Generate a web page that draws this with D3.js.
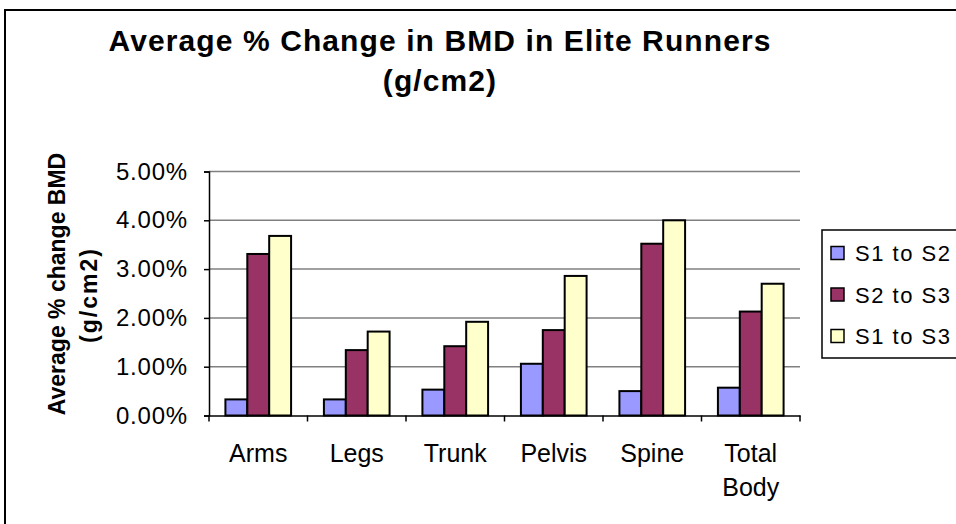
<!DOCTYPE html>
<html><head><meta charset="utf-8">
<script src="https://cdn.jsdelivr.net/npm/d3@7/dist/d3.min.js"></script>
<style>
html,body{margin:0;padding:0;background:#fff;}
svg{display:block;font-family:Arial,"Liberation Sans",sans-serif;}
</style></head>
<body><svg id="c" width="956" height="524"></svg>
<script>
const categories = ["Arms","Legs","Trunk","Pelvis","Spine","Total Body"];
const seriesNames = ["S1 to S2","S2 to S3","S1 to S3"];
const s1ToS2 = [0.33,0.33,0.53,1.06,0.50,0.57];
const s2ToS3 = [3.31,1.34,1.42,1.75,3.52,2.13];
const s1ToS3 = [3.68,1.72,1.92,2.86,4.00,2.70];
const yTicks = [0,1,2,3,4,5];
const seriesColors = ["#9999FF","#993366","#FFFFCC"];
const titleLines = ["Average % Change in BMD in Elite Runners","(g/cm2)"];
const yTitleLines = ["Average % change BMD","(g/cm2)"];

const seriesValues = [s1ToS2, s2ToS3, s1ToS3];
const svg = d3.select("#c");

// outer chart frame
svg.append("rect").attr("x",5).attr("y",10).attr("width",1000).attr("height",600)
  .attr("fill","#fff").attr("stroke","#000").attr("stroke-width",2);

const pLeft=209, pRight=800, pTop=171.5, pBottom=415.5;
const x0 = d3.scaleBand().domain(categories).range([pLeft,pRight]).padding(0);
const x1 = d3.scaleBand().domain(seriesNames).range([0,x0.bandwidth()]).paddingInner(0).paddingOuter(0.75);
const y = d3.scaleLinear().domain([0,5]).range([pBottom,pTop]);
const color = d3.scaleOrdinal().domain(seriesNames).range(seriesColors);

// gridlines
svg.append("g").selectAll("line").data(yTicks.filter(d=>d>0)).join("line")
  .attr("x1",pLeft).attr("x2",pRight).attr("y1",d=>y(d)).attr("y2",d=>y(d))
  .attr("stroke","#808080").attr("stroke-width",1.5);

// bars
const groups = svg.append("g").selectAll("g").data(categories).join("g")
  .attr("transform",c=>`translate(${x0(c)},0)`);
groups.selectAll("rect").data((c,i)=>seriesNames.map((s,j)=>({s,v:seriesValues[j][i]}))).join("rect")
  .attr("x",d=>x1(d.s)).attr("width",x1.bandwidth())
  .attr("y",d=>y(d.v)).attr("height",d=>y(0)-y(d.v))
  .attr("fill",d=>color(d.s)).attr("stroke","#000").attr("stroke-width",2);

// y axis
const yAxis = svg.append("g").attr("transform",`translate(${pLeft},0)`)
  .call(d3.axisLeft(y).tickValues(yTicks).tickSize(5).tickPadding(16).tickFormat(d=>d.toFixed(2)+"%"));
yAxis.select(".domain").attr("stroke","#000").attr("stroke-width",1.5);
yAxis.selectAll(".tick line").attr("stroke","#000").attr("stroke-width",1.5);
yAxis.selectAll(".tick text").attr("font-size",24).attr("letter-spacing",0.8)
  .attr("font-family","Arial, 'Liberation Sans', sans-serif").attr("fill","#000");

// x axis
const xAxis = svg.append("g").attr("transform",`translate(0,${pBottom})`)
  .call(d3.axisBottom(x0).tickSize(0).tickFormat(""));
xAxis.select(".domain").attr("stroke","#000").attr("stroke-width",1.5);
const bounds = categories.map(c=>x0(c)).concat([x0.range()[1]]);
xAxis.append("g").selectAll("line").data(bounds).join("line")
  .attr("x1",d=>d).attr("x2",d=>d).attr("y1",0).attr("y2",6)
  .attr("stroke","#000").attr("stroke-width",1.5);
xAxis.selectAll(".tick").each(function(c){
  const t = d3.select(this).append("text").attr("text-anchor","middle")
    .attr("font-size",25).attr("fill","#000");
  c.split(" ").forEach((w,i)=>t.append("tspan").attr("x",0).attr("y",46+i*34).text(w));
});

// title
svg.append("g").selectAll("text").data(titleLines).join("text")
  .attr("x",440).attr("y",(d,i)=>51+i*40).attr("text-anchor","middle")
  .attr("font-size",30).attr("font-weight","bold").attr("letter-spacing",1.1).text(d=>d);

// y title
svg.append("g").selectAll("text").data(yTitleLines).join("text")
  .attr("transform",(d,i)=>`translate(${i?97:65},${i?295:284}) rotate(-90)`)
  .attr("text-anchor","middle").attr("font-size",23).attr("font-weight","bold")
  .attr("letter-spacing",(d,i)=>i?2:0).text(d=>d);

// legend
const lg = svg.append("g");
lg.append("rect").attr("x",822).attr("y",230).attr("width",200).attr("height",128)
  .attr("fill","#fff").attr("stroke","#000").attr("stroke-width",1.5);
const items = lg.selectAll("g").data(seriesNames).join("g")
  .attr("transform",(d,i)=>`translate(831,${253+i*41.5})`);
items.append("rect").attr("x",0).attr("y",-6.5).attr("width",13).attr("height",13)
  .attr("fill",d=>color(d)).attr("stroke","#000").attr("stroke-width",1.5);
items.append("text").attr("x",24).attr("y",8).attr("font-size",22).attr("letter-spacing",1.5).text(d=>d);
</script></body></html>
